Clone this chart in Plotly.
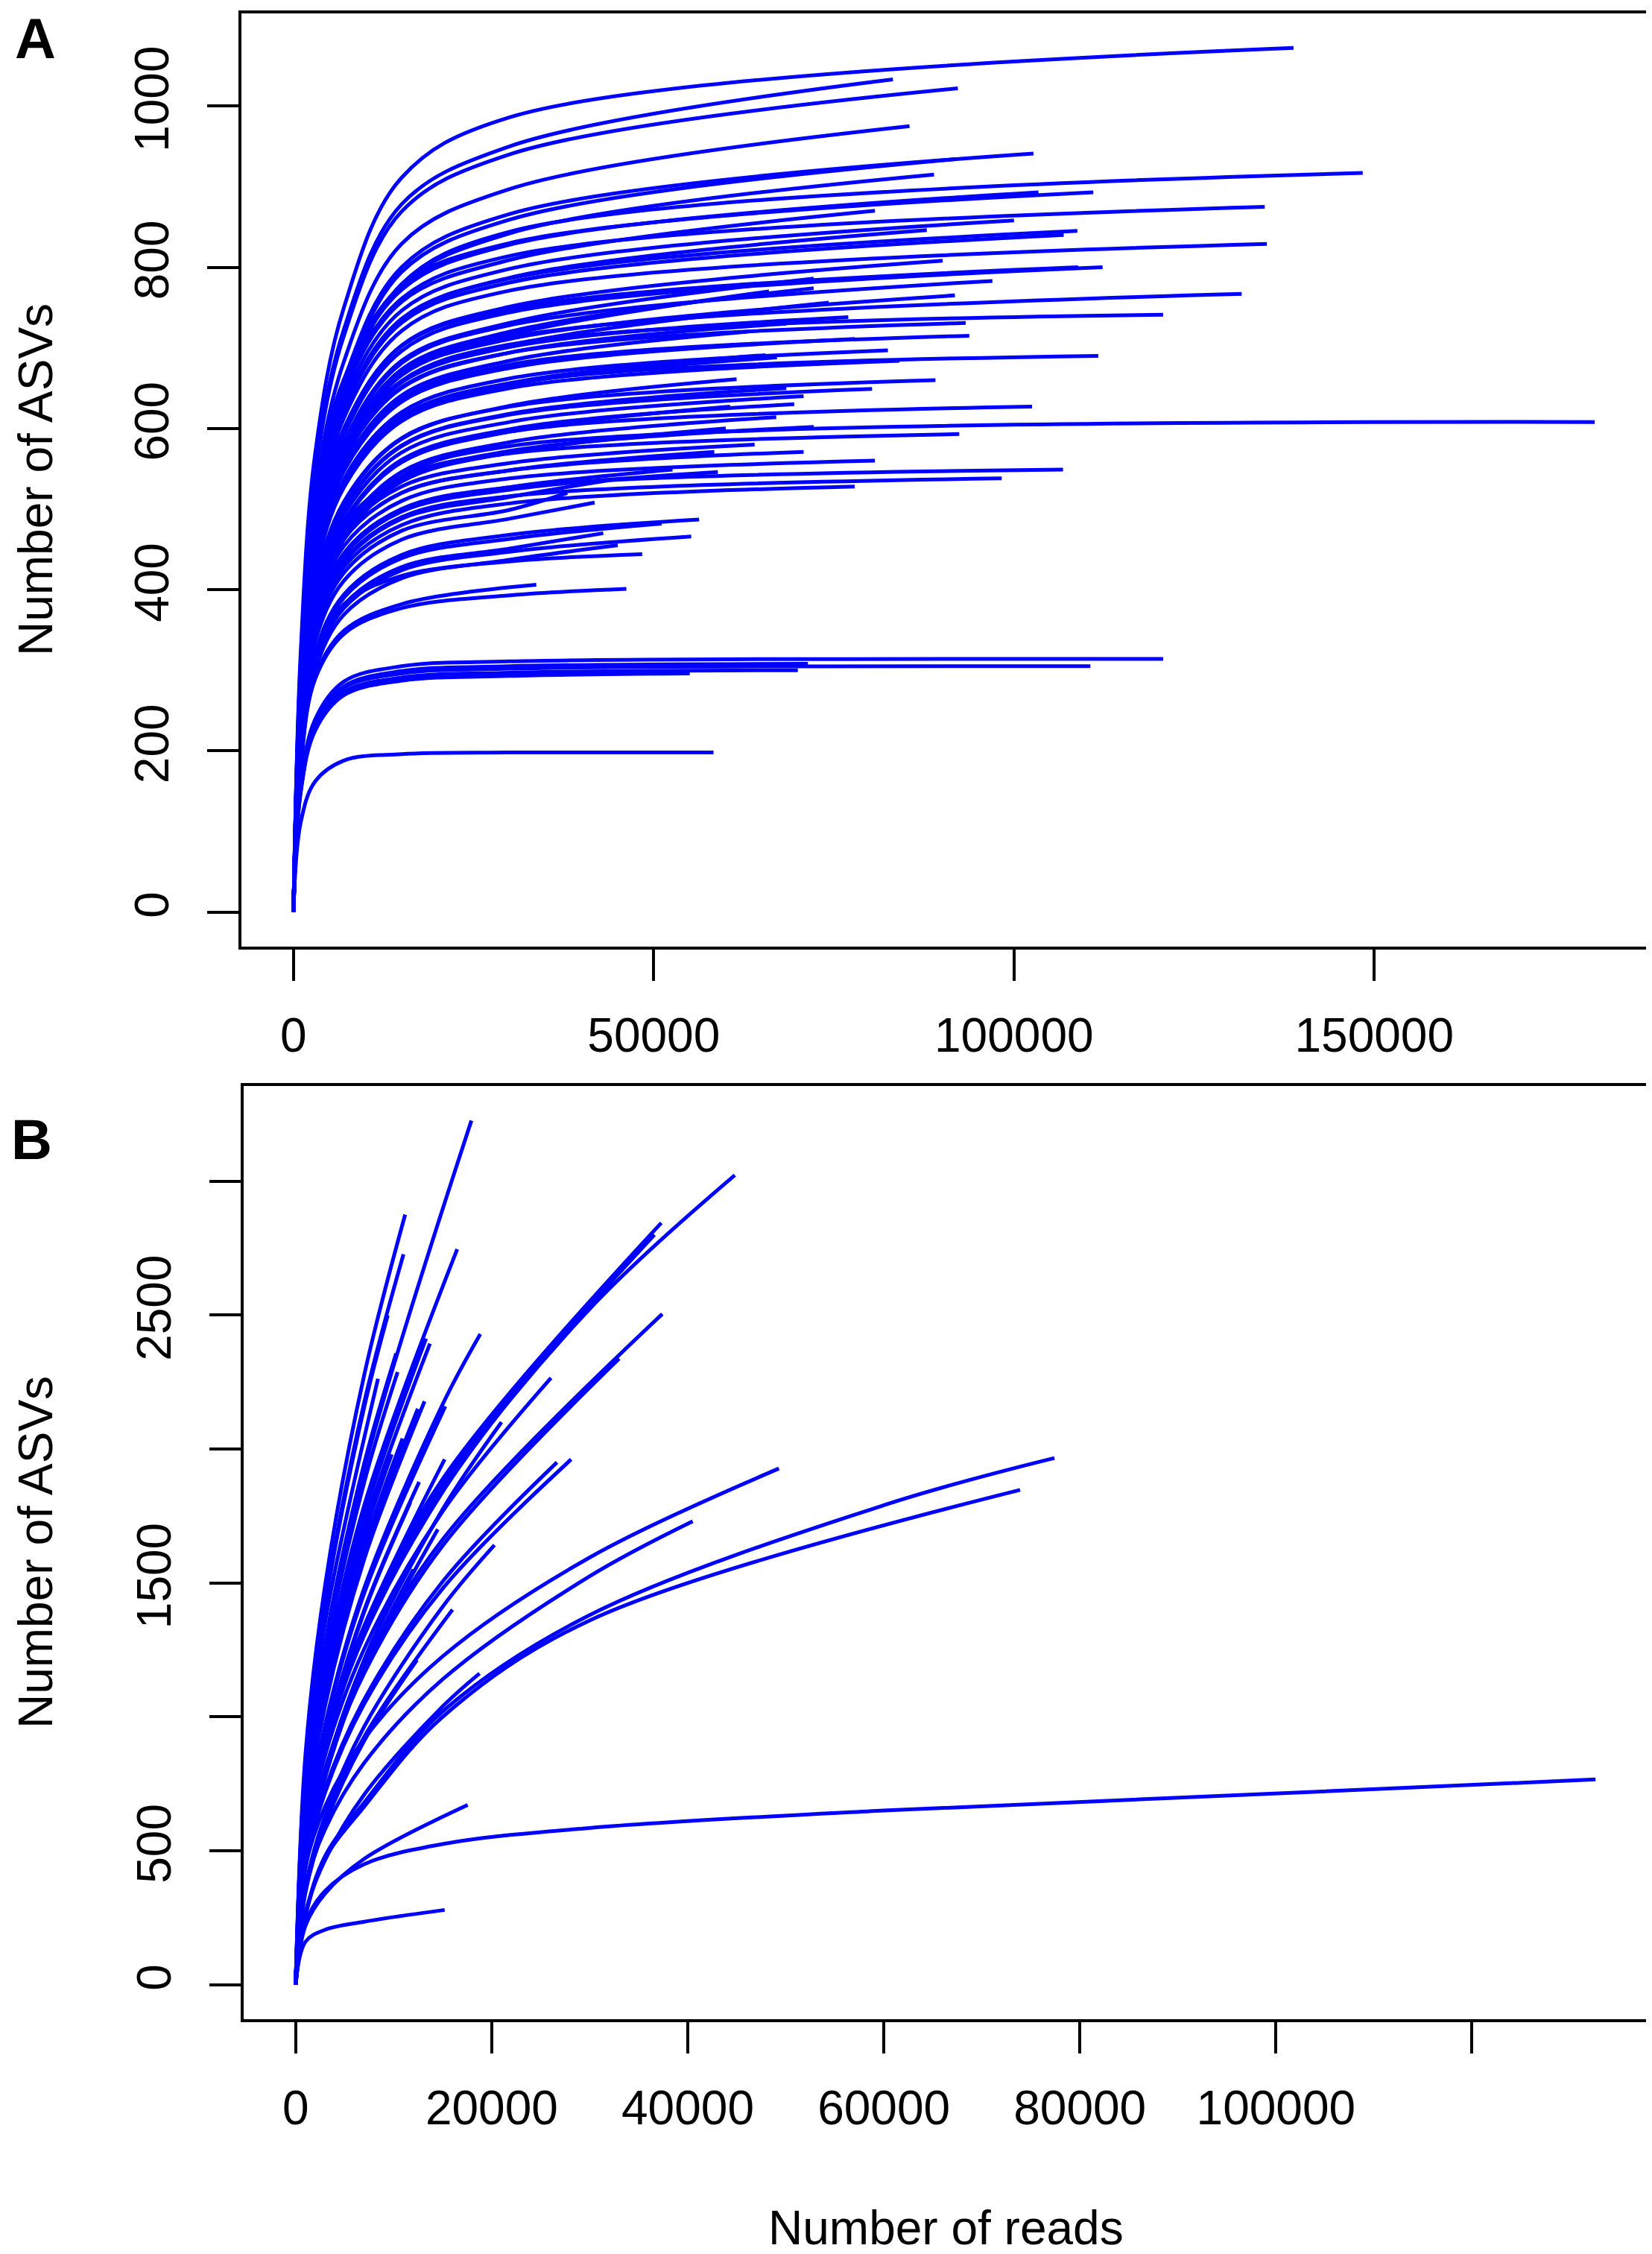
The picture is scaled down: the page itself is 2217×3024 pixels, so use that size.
import plotly.graph_objects as go

# ---------------- panel A : rarefaction curves ----------------
# depth (number of reads) at which every curve is sampled, the last point is the sample's own depth
a_depths = [0, 1000, 3000, 7000, 15000, 30000]
a_end_reads = [138800, 83200, 92200, 85500, 102700, 91900, 148400, 88900, 111000, 103400,
               134800, 80700, 100000, 108800, 106900, 87900, 135100, 90100, 112300, 108900,
               72200, 97000, 72200, 131600, 91800, 74300, 66000, 120700, 93300, 77000,
               93800, 77900, 82500, 67100, 111700, 84100, 89100, 80300, 70800, 69500,
               102500, 67000, 180600, 61500, 68400, 60600, 65500, 68400, 63000, 72200,
               60000, 92400, 70800, 80700, 106800, 98300, 77900, 41800, 56300, 51100,
               55200, 45000, 58400, 52600, 58900, 44000, 38000, 43000, 64000, 48400,
               33700, 46200, 120700, 71400, 110600, 70000, 55000, 58300]
a_asv_end = [1072, 1033, 1022, 975, 941, 934, 917, 915, 893, 893,
             875, 870, 858, 845, 840, 846, 829, 808, 800, 800,
             786, 783, 774, 767, 765, 756, 770, 741, 731, 738,
             715, 711, 697, 688, 690, 684, 660, 649, 640, 630,
             627, 614, 608, 661, 650, 627, 691, 730, 720, 602,
             600, 593, 571, 560, 549, 538, 528, 508, 487, 482,
             466, 455, 571, 549, 546, 536, 520, 470, 580, 444,
             406, 401, 314, 308, 305, 300, 296, 198]
a_asv_1k = [322, 310, 307, 293, 282, 280, 275, 275, 295, 290,
            289, 287, 283, 279, 277, 279, 274, 267, 264, 270,
            259, 258, 255, 253, 252, 249, 254, 267, 263, 266,
            257, 256, 251, 248, 248, 246, 238, 234, 230, 227,
            226, 221, 219, 238, 234, 226, 249, 263, 259, 217,
            216, 237, 228, 224, 220, 215, 211, 203, 195, 193,
            186, 182, 228, 220, 218, 214, 208, 188, 232, 200,
            183, 180, 157, 154, 153, 150, 148, 111]
a_asv_3k = [568, 547, 542, 517, 499, 495, 486, 485, 509, 500,
            499, 496, 489, 482, 479, 482, 473, 461, 456, 465,
            448, 446, 441, 437, 436, 431, 439, 452, 446, 450,
            436, 434, 425, 420, 421, 417, 403, 396, 390, 384,
            382, 375, 371, 403, 397, 382, 422, 445, 439, 367,
            366, 391, 377, 370, 362, 355, 348, 335, 321, 318,
            308, 300, 377, 362, 360, 354, 343, 310, 383, 320,
            292, 289, 239, 234, 232, 228, 225, 162]
a_asv_7k = [750, 723, 715, 683, 659, 654, 642, 641, 661, 655,
            648, 644, 635, 625, 622, 626, 613, 598, 592, 600,
            582, 579, 573, 568, 566, 559, 570, 571, 563, 568,
            551, 547, 537, 530, 531, 527, 508, 500, 493, 485,
            483, 473, 468, 509, 501, 483, 532, 562, 554, 464,
            462, 480, 463, 454, 445, 436, 428, 411, 394, 390,
            377, 369, 463, 445, 442, 434, 421, 381, 470, 382,
            349, 345, 286, 280, 278, 273, 269, 188]
a_asv_15k = [911, 878, 869, 829, 800, 794, 779, 778, 777, 772,
             761, 757, 746, 735, 731, 736, 721, 703, 696, 702,
             684, 681, 673, 667, 666, 658, 670, 659, 651, 657,
             636, 633, 620, 612, 614, 609, 587, 578, 570, 561,
             558, 546, 541, 588, 579, 558, 615, 650, 641, 536,
             534, 540, 520, 510, 500, 490, 480, 462, 443, 439,
             424, 414, 520, 500, 497, 488, 473, 428, 528, 417,
             382, 377, 305, 299, 296, 291, 287, 196]
a_asv_30k = [986, 950, 940, 897, 866, 859, 844, 842, 830, 828,
             814, 809, 798, 786, 781, 787, 771, 751, 744, 748,
             731, 728, 720, 713, 711, 703, 716, 704, 694, 701,
             679, 675, 662, 654, 656, 650, 627, 617, 608, 599,
             596, 583, 578, 628, 618, 596, 656, 694, 684, 572,
             570, 569, 548, 538, 527, 516, 507, 488, 468, 463,
             447, 437, 548, 527, 524, 515, 499, 451, 557, 435,
             398, 393, 311, 305, 302, 297, 293, 198]

a_xticks = [0, 50000, 100000, 150000]
a_xtick_text = ["0", "50000", "100000", "150000"]
a_yticks = [0, 200, 400, 600, 800, 1000]
a_ytick_text = ["0", "200", "400", "600", "800", "1000"]

# ---------------- panel B : rarefaction curves ----------------
b_depths = [0, 1000, 3000, 7000, 15000, 30000, 60000]
b_end_reads = [17930, 44800, 37300, 36600, 11170, 16480, 11000, 37400, 18840, 33000,
               24600, 24100, 13300, 13700, 10250, 9400, 26050, 15270, 13150, 12460,
               28100, 26660, 15200, 12600, 20280, 40500, 49300, 77400, 73900, 132600,
               17550, 15200, 12380, 18760, 10400, 8400, 10900, 9800, 11700, 14500,
               9000, 7500, 12000, 10000, 16000, 8000, 21000]
b_asv_end = [3226, 3022, 2844, 2800, 2875, 2746, 2727, 2504, 2429, 2337,
             2318, 2290, 2412, 2393, 2357, 2499, 2265, 2159, 2178, 2150,
             1961, 1950, 1961, 1877, 1641, 1730, 1927, 1966, 1847, 766,
             671, 279, 1212, 1162, 2287, 2262, 2039, 1980, 1800, 1700,
             1900, 1750, 1550, 1450, 1400, 1300, 2100]
b_asv_1k = [660, 546, 558, 554, 860, 676, 822, 491, 560, 485,
            548, 545, 661, 646, 736, 815, 522, 553, 601, 609,
            437, 445, 503, 529, 364, 366, 438, 260, 255, 230,
            220, 160, 344, 268, 709, 780, 618, 632, 526, 446,
            633, 639, 447, 459, 350, 460, 458]
b_asv_3k = [1207, 895, 915, 909, 1490, 1172, 1424, 805, 969, 794,
            899, 893, 1146, 1120, 1275, 1412, 856, 957, 1040, 1055,
            717, 730, 871, 916, 631, 580, 665, 480, 470, 350,
            340, 205, 597, 465, 1228, 1352, 1070, 1096, 911, 773,
            1097, 1107, 775, 794, 606, 796, 794]
b_asv_7k = [1924, 1311, 1340, 1330, 2277, 1790, 2175, 1179, 1481, 1163,
            1317, 1305, 1750, 1711, 1947, 2157, 1254, 1462, 1589, 1611,
            1049, 1065, 1331, 1399, 964, 828, 918, 680, 665, 450,
            470, 235, 911, 710, 1876, 2065, 1634, 1673, 1392, 1181,
            1676, 1691, 1184, 1213, 926, 1216, 1212]
b_asv_15k = [2927, 1847, 1888, 1874, None, 2620, None, 1662, 2167, 1639,
             1855, 1840, None, None, None, None, 1767, 2140, None, None,
             1479, 1505, 1948, None, 1411, 1140, 1226, 1020, 1000, 525,
             630, 278, None, 1039, None, None, None, None, None, None,
             None, None, None, None, 1356, None, 1775]
b_asv_30k = [None, 2523, 2578, 2560, None, None, None, 2270, None, 2239,
             None, None, None, None, None, None, None, None, None, None,
             None, None, None, None, None, 1525, 1595, 1380, 1360, 585,
             None, None, None, None, None, None, None, None, None, None,
             None, None, None, None, None, None, None]
b_asv_60k = [None] * 27 + [1790, 1720, 650] + [None] * 17

b_xticks = [0, 20000, 40000, 60000, 80000, 100000, 120000]
b_xtick_text = ["0", "20000", "40000", "60000", "80000", "100000", ""]
b_yticks = [0, 500, 1000, 1500, 2000, 2500, 3000]
b_ytick_text = ["0", "500", "", "1500", "", "2500", ""]

W, H = 2217, 3024
FONT = "Liberation Sans, Arial, sans-serif"
BLUE = "#0000ff"

fig = go.Figure()


def add_curve(xaxis, yaxis, depths, values, end_reads, end_asv):
    xs, ys = [], []
    for d, v in zip(depths, values):
        # skip a sampling depth that sits too close to the sample's own depth
        if v is None or d * 1.25 > end_reads:
            continue
        xs.append(d)
        ys.append(v)
    xs.append(end_reads)
    ys.append(end_asv)
    fig.add_trace(go.Scatter(x=xs, y=ys, mode="lines", xaxis=xaxis, yaxis=yaxis,
                             line=dict(color=BLUE, width=5, shape="spline", smoothing=1.0),
                             hoverinfo="skip", showlegend=False))


for i in range(len(a_end_reads)):
    vals = [0, a_asv_1k[i], a_asv_3k[i], a_asv_7k[i], a_asv_15k[i], a_asv_30k[i]]
    add_curve("x", "y", a_depths, vals, a_end_reads[i], a_asv_end[i])

for i in range(len(b_end_reads)):
    vals = [0, b_asv_1k[i], b_asv_3k[i], b_asv_7k[i], b_asv_15k[i], b_asv_30k[i], b_asv_60k[i]]
    add_curve("x2", "y2", b_depths, vals, b_end_reads[i], b_asv_end[i])


def px_x(p):
    return p / W


def px_y(p):
    return 1 - p / H


axis_style = dict(showline=True, linecolor="black", linewidth=4, mirror=True,
                  ticks="outside", ticklen=42, tickwidth=4, tickcolor="black",
                  showgrid=False, zeroline=False,
                  tickfont=dict(family=FONT, size=64, color="black"))

a_xmax = max(a_end_reads)
a_ymax = max(a_asv_end)
b_xmax = max(b_end_reads)
b_ymax = max(b_asv_end)

fig.update_layout(
    width=W, height=H,
    margin=dict(l=0, r=0, t=0, b=0),
    paper_bgcolor="white", plot_bgcolor="white",
    showlegend=False,
    xaxis=dict(domain=[px_x(316), px_x(2202)], anchor="y",
               range=[-0.04 * a_xmax, 1.04 * a_xmax],
               tickvals=a_xticks, ticktext=a_xtick_text, ticklabelstandoff=18, **axis_style),
    yaxis=dict(domain=[px_y(1262), px_y(10)], anchor="x",
               range=[-0.04 * a_ymax, 1.04 * a_ymax],
               tickvals=a_yticks, ticktext=a_ytick_text, tickangle=-90,
               ticklabelstandoff=26, **axis_style),
    xaxis2=dict(domain=[px_x(319), px_x(2203)], anchor="y2",
                range=[-0.04 * b_xmax, 1.04 * b_xmax],
                tickvals=b_xticks, ticktext=b_xtick_text, ticklabelstandoff=18, **axis_style),
    yaxis2=dict(domain=[px_y(2701), px_y(1449)], anchor="x2",
                range=[-0.04 * b_ymax, 1.04 * b_ymax],
                tickvals=b_yticks, ticktext=b_ytick_text, tickangle=-90,
                ticklabelstandoff=26, **axis_style),
)

labels = [
    dict(text="<b>A</b>", x=px_x(39), y=px_y(43), xanchor="center", yanchor="middle",
         font=dict(family=FONT, size=76, color="black")),
    dict(text="<b>B</b>", x=px_x(34), y=px_y(1520), xanchor="center", yanchor="middle",
         font=dict(family=FONT, size=76, color="black")),
    dict(text="Number of ASVs", x=px_x(40), y=px_y(636), xanchor="center", yanchor="middle",
         textangle=-90, font=dict(family=FONT, size=64, color="black")),
    dict(text="Number of ASVs", x=px_x(40), y=px_y(2075), xanchor="center", yanchor="middle",
         textangle=-90, font=dict(family=FONT, size=64, color="black")),
    dict(text="Number of reads", x=px_x(1261), y=px_y(2981), xanchor="center", yanchor="middle",
         font=dict(family=FONT, size=64, color="black")),
]
for lab in labels:
    fig.add_annotation(xref="paper", yref="paper", showarrow=False, **lab)

fig.write_html("out.html")
